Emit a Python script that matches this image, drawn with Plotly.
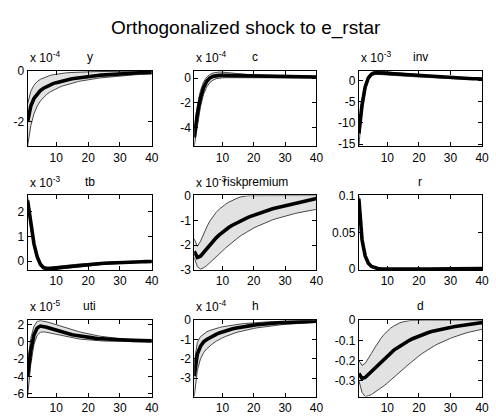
import plotly.graph_objects as go

periods = list(range(1, 41))

# y (x 1e-4)
y_mean = [-2.00, -1.38, -1.08, -0.90, -0.77, -0.68, -0.61, -0.55, -0.50, -0.46, -0.42, -0.39, -0.36, -0.335, -0.31, -0.29, -0.27, -0.25, -0.235, -0.22, -0.205, -0.19, -0.178, -0.166, -0.155, -0.145, -0.135, -0.126, -0.118, -0.11, -0.103, -0.097, -0.091, -0.085, -0.08, -0.075, -0.07, -0.066, -0.062, -0.058]
y_up = [-1.30, -0.80, -0.56, -0.42, -0.33, -0.27, -0.22, -0.18, -0.15, -0.125, -0.105, -0.09, -0.078, -0.068, -0.06, -0.053, -0.047, -0.042, -0.038, -0.034, -0.031, -0.028, -0.026, -0.024, -0.022, -0.02, -0.019, -0.018, -0.017, -0.016, -0.015, -0.014, -0.013, -0.012, -0.011, -0.01, -0.009, -0.008, -0.007, -0.006]
y_low = [-2.95, -2.15, -1.68, -1.38, -1.18, -1.03, -0.92, -0.83, -0.76, -0.70, -0.64, -0.59, -0.55, -0.51, -0.475, -0.445, -0.415, -0.39, -0.365, -0.345, -0.325, -0.305, -0.29, -0.272, -0.258, -0.244, -0.23, -0.218, -0.206, -0.195, -0.185, -0.175, -0.166, -0.157, -0.149, -0.141, -0.134, -0.127, -0.121, -0.115]

# c (x 1e-4)
c_mean = [-4.8, -2.9, -1.6, -0.75, -0.25, 0.02, 0.15, 0.21, 0.23, 0.23, 0.225, 0.215, 0.205, 0.195, 0.185, 0.178, 0.17, 0.163, 0.157, 0.151, 0.146, 0.141, 0.136, 0.132, 0.128, 0.124, 0.121, 0.118, 0.115, 0.112, 0.11, 0.108, 0.106, 0.104, 0.102, 0.1, 0.099, 0.097, 0.096, 0.095]
c_up = [-4.1, -2.2, -1.0, -0.3, 0.1, 0.3, 0.42, 0.48, 0.5, 0.49, 0.46, 0.43, 0.4, 0.37, 0.345, 0.325, 0.305, 0.29, 0.275, 0.262, 0.25, 0.24, 0.23, 0.222, 0.214, 0.207, 0.2, 0.194, 0.189, 0.184, 0.18, 0.176, 0.172, 0.169, 0.166, 0.163, 0.16, 0.158, 0.156, 0.154]
c_low = [-5.5, -3.7, -2.3, -1.3, -0.7, -0.35, -0.15, -0.04, 0.01, 0.03, 0.04, 0.045, 0.045, 0.045, 0.045, 0.044, 0.043, 0.042, 0.041, 0.04, 0.039, 0.038, 0.037, 0.036, 0.035, 0.034, 0.033, 0.032, 0.031, 0.03, 0.029, 0.028, 0.027, 0.026, 0.025, 0.024, 0.023, 0.022, 0.021, 0.02]

# inv (x 1e-3)
inv_mean = [-12.5, -5.8, -1.5, 0.6, 1.5, 1.8, 1.85, 1.8, 1.74, 1.68, 1.62, 1.56, 1.5, 1.44, 1.38, 1.32, 1.26, 1.2, 1.14, 1.08, 1.02, 0.97, 0.92, 0.87, 0.82, 0.78, 0.74, 0.7, 0.66, 0.62, 0.59, 0.56, 0.53, 0.5, 0.47, 0.45, 0.43, 0.41, 0.39, 0.37]
inv_up = [-10.0, -4.5, -0.8, 1.1, 1.9, 2.2, 2.25, 2.2, 2.13, 2.06, 1.99, 1.92, 1.85, 1.78, 1.71, 1.64, 1.57, 1.5, 1.43, 1.36, 1.3, 1.24, 1.18, 1.12, 1.07, 1.02, 0.97, 0.92, 0.88, 0.84, 0.8, 0.76, 0.73, 0.7, 0.67, 0.64, 0.61, 0.58, 0.56, 0.54]
inv_low = [-15.5, -7.5, -2.4, 0.1, 1.1, 1.4, 1.45, 1.42, 1.37, 1.32, 1.27, 1.22, 1.17, 1.12, 1.07, 1.02, 0.97, 0.92, 0.87, 0.82, 0.77, 0.73, 0.69, 0.65, 0.61, 0.57, 0.54, 0.51, 0.48, 0.45, 0.42, 0.39, 0.37, 0.35, 0.33, 0.31, 0.29, 0.27, 0.25, 0.23]

# tb (x 1e-3)
tb_mean = [2.45, 1.45, 0.7, 0.18, -0.12, -0.26, -0.3, -0.3, -0.285, -0.27, -0.255, -0.24, -0.225, -0.21, -0.195, -0.18, -0.167, -0.155, -0.143, -0.132, -0.121, -0.111, -0.102, -0.093, -0.085, -0.077, -0.07, -0.063, -0.057, -0.051, -0.046, -0.041, -0.036, -0.032, -0.028, -0.024, -0.021, -0.018, -0.015, -0.012]
tb_up = [2.6, 1.6, 0.82, 0.27, -0.05, -0.2, -0.24, -0.24, -0.23, -0.215, -0.2, -0.185, -0.17, -0.156, -0.142, -0.129, -0.117, -0.106, -0.095, -0.085, -0.076, -0.067, -0.059, -0.052, -0.045, -0.038, -0.032, -0.026, -0.021, -0.016, -0.012, -0.008, -0.004, -0.001, 0.002, 0.005, 0.007, 0.009, 0.011, 0.013]
tb_low = [2.3, 1.3, 0.58, 0.08, -0.2, -0.33, -0.35, -0.35, -0.34, -0.325, -0.31, -0.295, -0.28, -0.265, -0.25, -0.235, -0.22, -0.206, -0.193, -0.181, -0.169, -0.158, -0.147, -0.137, -0.127, -0.118, -0.109, -0.101, -0.093, -0.086, -0.079, -0.073, -0.067, -0.061, -0.056, -0.051, -0.047, -0.043, -0.039, -0.036]

# riskpremium (x 1e-3)
rp_mean = [-2.25, -2.5, -2.45, -2.3, -2.14, -1.98, -1.84, -1.71, -1.59, -1.48, -1.38, -1.29, -1.21, -1.14, -1.07, -1.01, -0.95, -0.89, -0.84, -0.79, -0.74, -0.69, -0.65, -0.61, -0.57, -0.53, -0.5, -0.47, -0.44, -0.41, -0.38, -0.35, -0.32, -0.29, -0.26, -0.24, -0.21, -0.18, -0.15, -0.12]
rp_up = [-1.75, -2.05, -1.85, -1.55, -1.27, -1.03, -0.84, -0.68, -0.55, -0.44, -0.35, -0.27, -0.2, -0.14, -0.09, -0.05, -0.02, -0.008, -0.004, -0.002, -0.001, 0.0, 0.0, 0.0, 0.0, 0.0, 0.0, 0.0, 0.0, 0.0, 0.0, 0.0, 0.0, 0.0, 0.0, 0.0, 0.0, 0.0, 0.0, 0.0]
rp_low = [-2.5, -2.88, -2.97, -2.92, -2.83, -2.72, -2.6, -2.48, -2.36, -2.24, -2.12, -2.01, -1.9, -1.8, -1.7, -1.61, -1.53, -1.45, -1.38, -1.31, -1.25, -1.19, -1.13, -1.08, -1.03, -0.98, -0.94, -0.9, -0.86, -0.82, -0.79, -0.76, -0.73, -0.7, -0.67, -0.64, -0.62, -0.6, -0.58, -0.56]

# r
r_mean = [0.096, 0.04, 0.018, 0.008, 0.0035, 0.0015, 0.0006, 0.0002, 0.0001, 0.0, 0.0, 0.0, 0.0, 0.0, 0.0, 0.0, 0.0, 0.0, 0.0, 0.0, 0.0, 0.0, 0.0, 0.0, 0.0, 0.0, 0.0, 0.0, 0.0, 0.0, 0.0001, 0.0001, 0.0002, 0.0002, 0.0003, 0.0004, 0.0005, 0.0006, 0.0007, 0.0008]
r_up = [0.1, 0.045, 0.021, 0.0095, 0.0043, 0.002, 0.0009, 0.0004, 0.0002, 0.0001, 0.0001, 0.0001, 0.0001, 0.0001, 0.0001, 0.0001, 0.0001, 0.0001, 0.0001, 0.0001, 0.0001, 0.0001, 0.0001, 0.0001, 0.0001, 0.0001, 0.0002, 0.0002, 0.0002, 0.0003, 0.0003, 0.0004, 0.0005, 0.0006, 0.0007, 0.0008, 0.0009, 0.001, 0.0011, 0.0012]
r_low = [0.092, 0.035, 0.015, 0.0065, 0.0028, 0.0011, 0.0004, 0.0001, 0.0, -0.0001, -0.0001, -0.0002, -0.0002, -0.0002, -0.0002, -0.0002, -0.0002, -0.0002, -0.0002, -0.0002, -0.0002, -0.0002, -0.0002, -0.0002, -0.0002, -0.0002, -0.0002, -0.0002, -0.0002, -0.0002, -0.0002, -0.0002, -0.0001, -0.0001, -0.0001, 0.0, 0.0, 0.0001, 0.0001, 0.0002]

# uti (x 1e-5)
uti_mean = [-4.0, -1.0, 0.8, 1.6, 1.82, 1.78, 1.68, 1.57, 1.45, 1.33, 1.21, 1.1, 1.0, 0.91, 0.83, 0.75, 0.68, 0.62, 0.56, 0.51, 0.47, 0.43, 0.39, 0.36, 0.33, 0.3, 0.28, 0.26, 0.24, 0.22, 0.2, 0.19, 0.18, 0.17, 0.16, 0.15, 0.14, 0.13, 0.12, 0.11]
uti_up = [-2.3, 0.4, 1.8, 2.35, 2.45, 2.4, 2.3, 2.2, 2.08, 1.96, 1.84, 1.72, 1.6, 1.49, 1.38, 1.28, 1.18, 1.09, 1.0, 0.92, 0.84, 0.77, 0.7, 0.64, 0.58, 0.53, 0.48, 0.44, 0.4, 0.37, 0.34, 0.31, 0.29, 0.27, 0.25, 0.23, 0.22, 0.21, 0.2, 0.19]
uti_low = [-6.3, -2.6, -0.3, 0.75, 1.1, 1.15, 1.1, 1.02, 0.93, 0.84, 0.75, 0.67, 0.59, 0.52, 0.45, 0.39, 0.34, 0.29, 0.25, 0.21, 0.18, 0.15, 0.13, 0.11, 0.09, 0.08, 0.07, 0.06, 0.05, 0.045, 0.04, 0.035, 0.03, 0.028, 0.026, 0.024, 0.022, 0.02, 0.018, 0.016]

# h (x 1e-4)
h_mean = [-2.9, -1.75, -1.35, -1.12, -1.0, -0.9, -0.81, -0.73, -0.66, -0.6, -0.55, -0.5, -0.46, -0.42, -0.385, -0.355, -0.325, -0.3, -0.275, -0.255, -0.235, -0.215, -0.2, -0.185, -0.17, -0.157, -0.145, -0.134, -0.124, -0.115, -0.106, -0.098, -0.091, -0.084, -0.078, -0.072, -0.067, -0.062, -0.058, -0.054]
h_up = [-2.2, -1.15, -0.85, -0.7, -0.6, -0.53, -0.47, -0.42, -0.38, -0.34, -0.31, -0.28, -0.255, -0.232, -0.21, -0.19, -0.172, -0.156, -0.141, -0.128, -0.116, -0.105, -0.095, -0.086, -0.078, -0.071, -0.064, -0.058, -0.053, -0.048, -0.044, -0.04, -0.036, -0.033, -0.03, -0.027, -0.025, -0.023, -0.021, -0.019]
h_low = [-3.95, -2.6, -2.0, -1.68, -1.48, -1.33, -1.2, -1.09, -0.99, -0.91, -0.84, -0.77, -0.71, -0.66, -0.61, -0.565, -0.525, -0.49, -0.455, -0.425, -0.395, -0.37, -0.345, -0.32, -0.3, -0.28, -0.262, -0.245, -0.229, -0.214, -0.2, -0.187, -0.175, -0.164, -0.153, -0.143, -0.134, -0.125, -0.117, -0.11]

# d
d_mean = [-0.265, -0.29, -0.285, -0.27, -0.254, -0.237, -0.22, -0.204, -0.189, -0.175, -0.162, -0.15, -0.139, -0.128, -0.118, -0.109, -0.1, -0.092, -0.085, -0.078, -0.072, -0.066, -0.061, -0.056, -0.052, -0.048, -0.044, -0.041, -0.038, -0.035, -0.032, -0.03, -0.027, -0.025, -0.022, -0.02, -0.018, -0.016, -0.014, -0.012]
d_up = [-0.2, -0.225, -0.215, -0.192, -0.165, -0.138, -0.112, -0.09, -0.07, -0.054, -0.04, -0.029, -0.02, -0.013, -0.008, -0.004, -0.002, -0.001, 0.0, 0.0, 0.0, 0.0, 0.0, 0.0, 0.0, 0.0, 0.0, 0.0, 0.0, 0.0, 0.0, 0.0, 0.0, 0.0, 0.0, 0.0, 0.0, 0.0, 0.0, 0.0]
d_low = [-0.3, -0.36, -0.38, -0.377, -0.37, -0.36, -0.35, -0.338, -0.326, -0.313, -0.3, -0.286, -0.272, -0.258, -0.244, -0.23, -0.216, -0.203, -0.19, -0.178, -0.166, -0.155, -0.145, -0.135, -0.126, -0.118, -0.11, -0.103, -0.096, -0.09, -0.084, -0.078, -0.073, -0.068, -0.063, -0.059, -0.055, -0.051, -0.048, -0.045]

names = ["y", "c", "inv", "tb", "riskpremium", "r", "uti", "h", "d"]
exponents = ["-4", "-4", "-3", "-3", "-3", None, "-5", "-4", None]
means = [y_mean, c_mean, inv_mean, tb_mean, rp_mean, r_mean, uti_mean, h_mean, d_mean]
uppers = [y_up, c_up, inv_up, tb_up, rp_up, r_up, uti_up, h_up, d_up]
lowers = [y_low, c_low, inv_low, tb_low, rp_low, r_low, uti_low, h_low, d_low]
y_ranges = [[-2.95, 0.004], [-5.5, 0.6], [-15.5, 2.3], [-0.35, 2.65], [-3.005, 0.004],
            [-0.0012, 0.1005], [-6.3, 2.5], [-3.95, 0.004], [-0.38, 0.0005]]
y_ticks = [[-2, 0], [-4, -2, 0], [-15, -10, -5, 0], [0, 1, 2], [-3, -2, -1, 0],
           [0, 0.05, 0.1], [-6, -4, -2, 0, 2], [-3, -2, -1, 0], [-0.3, -0.2, -0.1, 0]]
y_ticktext = [["-2", "0"], ["-4", "-2", "0"], ["-15", "-10", "-5", "0"], ["0", "1", "2"],
              ["-3", "-2", "-1", "0"], ["0", "0.05", "0.1"], ["-6", "-4", "-2", "0", "2"],
              ["-3", "-2", "-1", "0"], ["-0.3", "-0.2", "-0.1", "0"]]
x_ticks = [10, 20, 30, 40]

W, H = 496, 418
col_l = [28, 197, 364]
col_r = [154, 321, 489]
row_t = [66, 195, 324]
row_b = [144, 272, 403]

FONT = "Liberation Sans, Arial, Helvetica, sans-serif"
fig = go.Figure()
layout = dict(width=W, height=H, margin=dict(l=0, r=0, t=0, b=0),
              paper_bgcolor="white", plot_bgcolor="white", showlegend=False,
              font=dict(family=FONT, size=12, color="black"))
annotations = []

for i in range(9):
    r, c = divmod(i, 3)
    ax = "" if i == 0 else str(i + 1)
    xa, ya = "x" + ax, "y" + ax
    fig.add_trace(go.Scatter(x=periods, y=lowers[i], xaxis=xa, yaxis=ya, mode="lines",
                             line=dict(color="#484848", width=1), hoverinfo="skip"))
    fig.add_trace(go.Scatter(x=periods, y=uppers[i], xaxis=xa, yaxis=ya, mode="lines",
                             fill="tonexty", fillcolor="#e2e2e2",
                             line=dict(color="#484848", width=1), hoverinfo="skip"))
    fig.add_trace(go.Scatter(x=periods, y=means[i], xaxis=xa, yaxis=ya, mode="lines",
                             line=dict(color="black", width=3.6), hoverinfo="skip"))
    common = dict(showline=True, linecolor="black", linewidth=1, mirror="ticks",
                  ticks="inside", ticklen=4, tickcolor="black", tickwidth=1,
                  showgrid=False, zeroline=False, fixedrange=True,
                  tickfont=dict(family=FONT, size=12, color="black"))
    layout["xaxis" + ax] = dict(domain=[col_l[c] / W, col_r[c] / W], range=[1, 40],
                                tickvals=x_ticks, ticktext=[str(v) for v in x_ticks],
                                anchor=ya, **common)
    layout["yaxis" + ax] = dict(domain=[1 - row_b[r] / H, 1 - row_t[r] / H],
                                range=y_ranges[i], tickvals=y_ticks[i],
                                ticktext=y_ticktext[i], anchor=xa, **common)
    cx = (col_l[c] + col_r[c]) / 2 / W
    annotations.append(dict(text=names[i], x=cx, y=1 - (row_t[r] - 5) / H, xref="paper",
                            yref="paper", xanchor="center", yanchor="bottom", showarrow=False,
                            font=dict(family=FONT, size=12, color="black")))
    if exponents[i]:
        annotations.append(dict(text="x 10<sup>" + exponents[i] + "</sup>", x=col_l[c] / W,
                                y=1 - (row_t[r] - 4) / H, xref="paper", yref="paper",
                                xanchor="left", yanchor="bottom", showarrow=False,
                                font=dict(family=FONT, size=12, color="black")))

annotations.append(dict(text="Orthogonalized shock to e_rstar", x=250 / W, y=1 - 22 / H,
                        xref="paper", yref="paper", xanchor="center", yanchor="middle",
                        showarrow=False, font=dict(family=FONT, size=19, color="black")))
layout["annotations"] = annotations
fig.update_layout(**layout)
fig.write_html("out.html")
